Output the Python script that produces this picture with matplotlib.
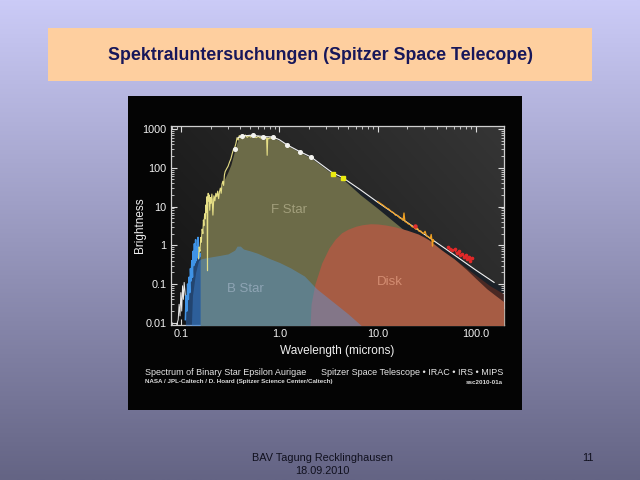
import numpy as np
import matplotlib
matplotlib.use("Agg")
import matplotlib.pyplot as plt
from matplotlib.patches import Rectangle
from matplotlib.ticker import LogLocator, FixedLocator, FixedFormatter, NullFormatter

# ---------------- data (wavelength in microns, brightness) ----------------
total_wave = [0.38, 0.42, 0.50, 0.55, 0.70, 0.86, 1.0, 1.2, 1.6, 2.1, 3.45, 4.36,
              6.7, 10, 20, 50, 100, 154, 193]
total_flux = [600, 660, 690, 680, 640, 625, 530, 390, 265, 190, 75, 57,
              27, 13, 3.9, 0.79, 0.23, 0.11, 0.078]

fstar_wave = [0.155, 0.155, 0.16, 0.17, 0.18, 0.19, 0.20, 0.22, 0.25, 0.27, 0.30, 0.32,
              0.35, 0.37, 0.39, 0.45, 0.55, 0.70, 0.86, 1.0, 1.2, 1.6, 2.1, 3.45,
              4.36, 6.7, 10, 18.5, 30, 50, 100, 193]
fstar_flux = [0.001, 0.9, 1.5, 4, 9, 14, 16, 18, 25, 45, 80, 120,
              280, 450, 620, 660, 670, 620, 600, 510, 380, 255, 180, 70,
              53, 20, 9, 2.5, 1.0, 0.34, 0.085, 0.023]

bstar_wave = [0.123, 0.13, 0.14, 0.15, 0.16, 0.20, 0.25, 0.30, 0.35, 0.37, 0.40, 0.43,
              0.50, 0.60, 0.80, 1.0, 1.3, 1.8, 2.4, 3.5, 5.0, 7.0]
bstar_flux = [0.001, 0.05, 0.2, 0.4, 0.45, 0.5, 0.55, 0.6, 0.75, 0.95, 0.95, 0.8,
              0.72, 0.62, 0.45, 0.36, 0.26, 0.16, 0.075, 0.035, 0.017, 0.008]

disk_wave = [1.98, 2.1, 2.3, 2.7, 3.2, 3.7, 4.3, 5.0, 6.0, 7.0, 8.5, 10, 12, 15,
             20, 26, 33, 45, 60, 80, 100, 130, 160, 193]
disk_flux = [0.001, 0.03, 0.1, 0.35, 0.85, 1.44, 2.1, 2.6, 3.1, 3.4, 3.6, 3.55, 3.35, 3.0,
             2.45, 1.95, 1.4, 0.75, 0.45, 0.24, 0.14, 0.075, 0.05, 0.035]

sum_wave = [25, 30, 50, 70, 100, 140, 193]
sum_flux = [1.9, 1.7, 0.62, 0.34, 0.17, 0.09, 0.056]

uv_wave = [0.150, 0.152, 0.155, 0.158, 0.160, 0.163, 0.166, 0.168, 0.170, 0.173, 0.176,
           0.178, 0.180, 0.183, 0.185, 0.186, 0.188, 0.190, 0.192, 0.195, 0.198, 0.200,
           0.205, 0.210, 0.215, 0.220, 0.225, 0.230, 0.235, 0.240, 0.245, 0.250, 0.255,
           0.260, 0.265, 0.270, 0.275, 0.280, 0.290, 0.300, 0.310, 0.320, 0.330, 0.340,
           0.350, 0.360, 0.370, 0.380, 0.390, 0.400, 0.410, 0.420, 0.430, 0.440, 0.450,
           0.470, 0.490, 0.510, 0.530, 0.550, 0.580, 0.610, 0.640, 0.670, 0.700, 0.720,
           0.740, 0.750, 0.760, 0.780, 0.800, 0.830, 0.860, 0.880, 0.900]
uv_flux = [0.45, 0.9, 0.7, 1.6, 1.2, 2.6, 2.0, 4.5, 3.2, 6.5, 4.8,
           11, 7, 18, 0.22, 9, 22, 14, 20, 8, 17, 12,
           21, 6, 19, 14, 22, 18, 25, 16, 24, 30, 22,
           38, 45, 35, 65, 80, 95, 110, 140, 170, 230, 300,
           330, 420, 600, 520, 680, 600, 700, 560, 690, 640, 700,
           610, 680, 620, 690, 640, 600, 650, 590, 620, 580, 600,
           590, 210, 590, 560, 600, 570, 600, 560, 590]

iue_wave = [0.110, 0.112, 0.114, 0.116, 0.118, 0.120, 0.122, 0.124, 0.126, 0.128, 0.130,
            0.132, 0.134, 0.136, 0.138, 0.140, 0.142, 0.144, 0.146, 0.148, 0.150, 0.152,
            0.154, 0.156]
iue_flux = [0.012, 0.05, 0.02, 0.1, 0.04, 0.15, 0.06, 0.25, 0.12, 0.4, 0.15,
            0.7, 0.3, 1.1, 0.35, 1.4, 0.4, 0.9, 0.5, 1.6, 0.45, 0.8,
            0.5, 0.6]

fuv_wave = [0.090, 0.093, 0.095, 0.097, 0.099, 0.101, 0.103, 0.105, 0.107, 0.110]
fuv_flux = [0.009, 0.012, 0.03, 0.015, 0.06, 0.02, 0.09, 0.04, 0.11, 0.05]

irs_wave = [10.0, 10.8, 11.5, 12.3, 13.0, 13.8, 14.5, 15.2, 16.0, 16.8, 17.5, 18.2,
            18.6, 19.0, 19.8, 20.5, 21.5, 22.5, 23.5, 24.5, 25.5, 26.5, 27.5, 28.5,
            29.5, 30.5, 31.5, 32.5, 33.5, 34.5, 35.2, 35.8, 36.3, 36.8, 37.3]
irs_flux = [13.5, 11.8, 10.6, 9.2, 8.6, 7.4, 7.0, 6.0, 5.9, 5.1, 4.9, 4.4,
            6.8, 4.1, 3.9, 3.6, 3.4, 3.0, 2.9, 2.6, 2.75, 2.3, 2.35, 2.1,
            2.0, 2.3, 1.75, 1.7, 1.6, 1.5, 1.9, 1.4, 0.95, 1.4, 1.3]

mips_wave = [52, 55, 58, 61, 64, 67, 70, 73, 76, 79, 82, 85, 88, 91]
mips_flux = [0.88, 0.80, 0.75, 0.78, 0.62, 0.70, 0.55, 0.60, 0.50, 0.56, 0.45, 0.50, 0.40, 0.46]
mips24_wave = [24]
mips24_flux = [3.2]

phot_wave = [0.35, 0.42, 0.54, 0.68, 0.86, 1.2, 1.61, 2.09]
phot_flux = [309, 645, 683, 620, 620, 377, 257, 185]

irac_wave = [3.5, 4.4]
irac_flux = [71, 55]

xtick_vals = [0.1, 1.0, 10.0, 100.0]
xtick_labels = ["0.1", "1.0", "10.0", "100.0"]
ytick_vals = [0.01, 0.1, 1, 10, 100, 1000]
ytick_labels = ["0.01", "0.1", "1", "10", "100", "1000"]

FONT = ["Liberation Sans", "DejaVu Sans"]
plt.rcParams["font.family"] = FONT

fig = plt.figure(figsize=(6.4, 4.8), dpi=100)

# slide background: vertical lavender gradient
bg = fig.add_axes([0, 0, 1, 1], zorder=-10)
t = np.linspace(0, 1, 256)[:, None]
top_c = np.array([203, 203, 247]) / 255.0
bot_c = np.array([100, 100, 132]) / 255.0
grad = top_c * (1 - t) + bot_c * t
bg.imshow(grad[:, None, :], aspect="auto", extent=[0, 1, 0, 1])
bg.set_axis_off()

# title box
fig.add_artist(Rectangle((48 / 640, 1 - 81 / 480), 544 / 640, 53 / 480,
                         transform=fig.transFigure, facecolor="#fecf9f",
                         edgecolor="none", zorder=-5))
fig.text(0.5, 1 - 55 / 480, "Spektraluntersuchungen (Spitzer Space Telecope)",
         ha="center", va="center", fontsize=12.8, fontweight="bold", color="#17175a")

# black picture panel
fig.add_artist(Rectangle((128 / 640, 1 - 410 / 480), 394 / 640, 314 / 480,
                         transform=fig.transFigure, facecolor="#040404",
                         edgecolor="none", zorder=-5))

# footer
fig.text(322 / 640, 1 - 458 / 480, "BAV Tagung Recklinghausen", ha="center", va="center",
         fontsize=7.8, color="#10101e")
fig.text(322 / 640, 1 - 471 / 480, "18.09.2010", ha="center", va="center",
         fontsize=7.8, color="#10101e")
fig.text(588 / 640, 1 - 458 / 480, "11", ha="center", va="center",
         fontsize=7.8, color="#10101e")

# plot area
pos = [170.7 / 640, 1 - 324.7 / 480, 333 / 640, 198.7 / 480]
pax = fig.add_axes(pos, zorder=-1)
u = np.linspace(0, 1, 200)[None, :]
v = np.linspace(1, 0, 150)[:, None]
shade = 0.08 + 0.13 * (0.65 * u + 0.35 * v)
pax.imshow(np.dstack([shade, shade, shade]), aspect="auto", extent=[0, 1, 0, 1])
pax.set_axis_off()

ax = fig.add_axes(pos, zorder=0)
ax.set_facecolor("none")
ax.set_xscale("log")
ax.set_yscale("log")
ax.set_xlim(0.078, 193)
ax.set_ylim(0.0089, 1200)

floor = 1e-3
ax.fill_between(total_wave, total_flux, floor, color="#1b2128", lw=0, zorder=1)
ax.fill_between(sum_wave, sum_flux, floor, color="#4a2924", lw=0, zorder=2)
ax.fill_between(fstar_wave, fstar_flux, floor, color="#6c6b48", lw=0, zorder=3)
ax.fill_between(disk_wave, disk_flux, floor, color="#a65c44", lw=0, zorder=4)
ax.fill_between(bstar_wave, bstar_flux, floor, color="#4f9fef", alpha=0.4, lw=0, zorder=5)
ax.fill_between(iue_wave, iue_flux, floor, color="#2f72c8", alpha=0.5, lw=0, zorder=5.5)

ax.plot(fuv_wave, fuv_flux, color="#e8e8e8", lw=0.7, zorder=6)
ax.plot(iue_wave, iue_flux, color="#3f93e6", lw=1.1, zorder=6)
ax.plot(uv_wave, uv_flux, color="#e6df86", lw=0.8, zorder=6)
ax.plot(total_wave[:-1], total_flux[:-1], color="#f2f2f2", lw=0.8, zorder=7)
ax.plot(irs_wave, irs_flux, color="#f0a020", lw=0.9, zorder=8)
ax.plot(mips_wave, mips_flux, color="#e02828", lw=0.9, zorder=8)
ax.plot(mips_wave, mips_flux, ls="none", marker="o", ms=1.6, color="#e02828", zorder=8)
ax.plot(mips24_wave, mips24_flux, ls="none", marker="o", ms=2.2, color="#e03030", zorder=9)
ax.plot(phot_wave, phot_flux, ls="none", marker="o", ms=2.6, color="#f4f4f0", zorder=9)
ax.plot(irac_wave, irac_flux, ls="none", marker="s", ms=2.8, color="#ecec10", zorder=9)

ax.text(1.26, 8.2, "F Star", ha="center", va="center", fontsize=9.5, color="#a29f7c", zorder=10)
ax.text(0.45, 0.074, "B Star", ha="center", va="center", fontsize=9.5, color="#8ea4b4", zorder=10)
ax.text(13.3, 0.11, "Disk", ha="center", va="center", fontsize=9.5, color="#d38d72", zorder=10)

# axes styling
for sp in ax.spines.values():
    sp.set_color("#cfcfcf")
    sp.set_linewidth(0.9)
ax.xaxis.set_major_locator(FixedLocator(xtick_vals))
ax.xaxis.set_major_formatter(FixedFormatter(xtick_labels))
ax.yaxis.set_major_locator(FixedLocator(ytick_vals))
ax.yaxis.set_major_formatter(FixedFormatter(ytick_labels))
ax.xaxis.set_minor_locator(LogLocator(base=10, subs=np.arange(2, 10)))
ax.yaxis.set_minor_locator(LogLocator(base=10, subs=np.arange(2, 10)))
ax.xaxis.set_minor_formatter(NullFormatter())
ax.yaxis.set_minor_formatter(NullFormatter())
ax.tick_params(which="both", direction="in", top=True, right=True, color="#dcdcdc",
               labelcolor="#f0f0f0", labelsize=7.8)
ax.tick_params(which="major", length=4, width=0.8, pad=3)
ax.tick_params(which="minor", length=2, width=0.6)
ax.set_xlabel("Wavelength (microns)", fontsize=8.5, color="#f0f0f0")
ax.set_ylabel("Brightness", fontsize=8.5, color="#f0f0f0")
ax.xaxis.set_label_coords(0.5, -0.104)
ax.yaxis.set_label_coords(-0.074, 0.5)

# caption lines inside the picture panel
fig.text(144.7 / 640, 1 - 372.7 / 480, "Spectrum of Binary Star Epsilon Aurigae",
         ha="left", va="center", fontsize=6.5, color="#e6e6e6")
fig.text(503 / 640, 1 - 372.7 / 480, "Spitzer Space Telescope \u2022 IRAC \u2022 IRS \u2022 MIPS",
         ha="right", va="center", fontsize=6.5, color="#e6e6e6")
fig.text(144.7 / 640, 1 - 382 / 480,
         "NASA / JPL-Caltech / D. Hoard (Spitzer Science Center/Caltech)",
         ha="left", va="center", fontsize=4.5, fontweight="bold", color="#dcdcdc")
fig.text(503 / 640, 1 - 382 / 480, "ssc2010-01a", ha="right", va="center",
         fontsize=4.5, fontweight="bold", color="#dcdcdc")

fig.savefig("out.png", dpi=100)
